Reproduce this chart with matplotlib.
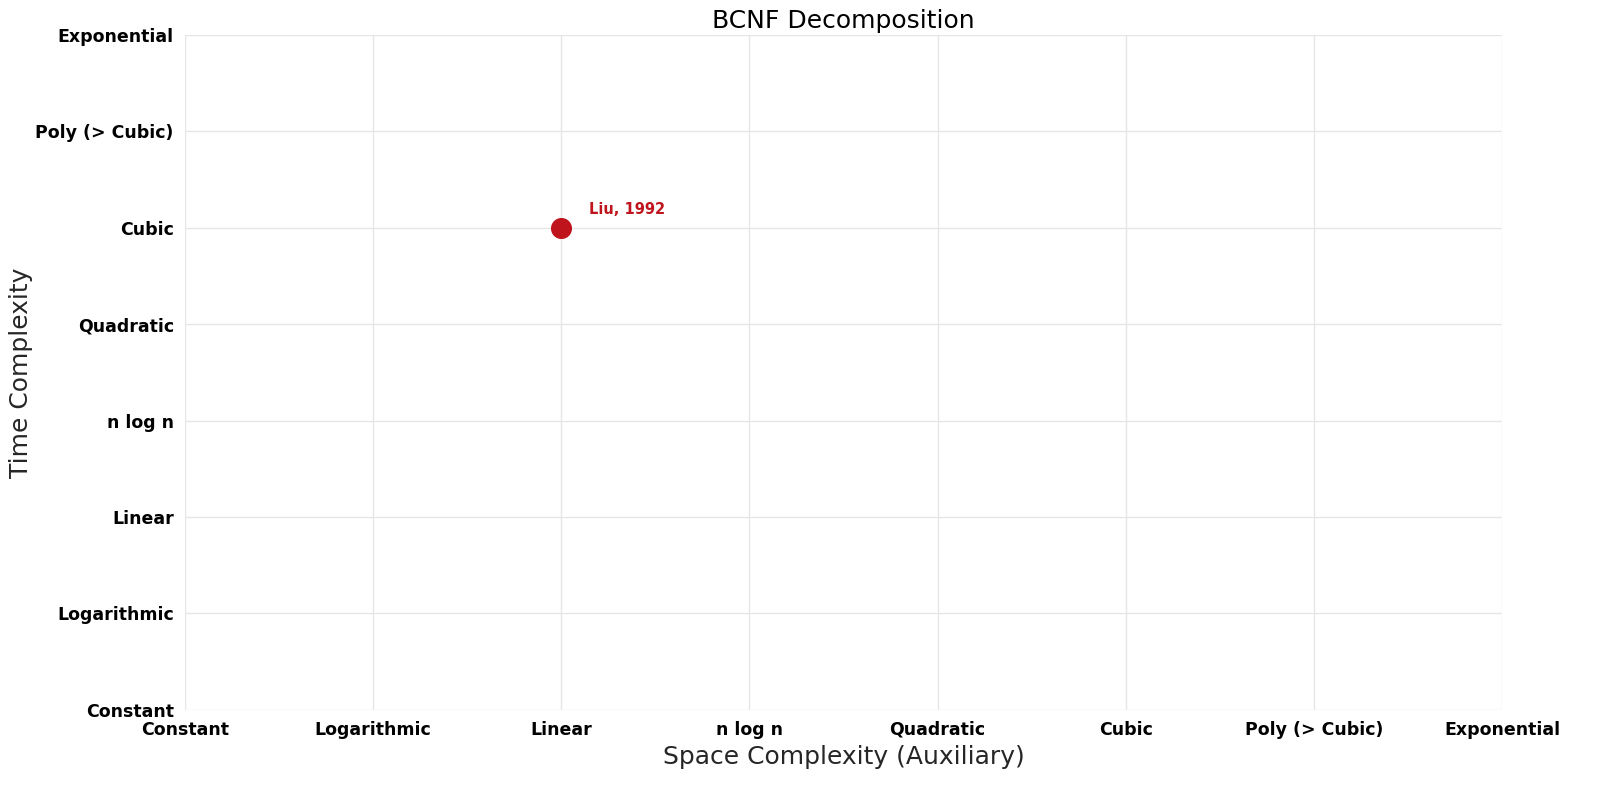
import matplotlib
matplotlib.use('Agg')
import matplotlib.pyplot as plt
import seaborn as sns

levels = ['Constant', 'Logarithmic', 'Linear', 'n log n', 'Quadratic',
          'Cubic', 'Poly (> Cubic)', 'Exponential']

names = ['Liu, 1992']
space = [2]
time = [5]

sns.set_style('whitegrid')
plt.rcParams['font.family'] = ['DejaVu Sans']

fig, ax = plt.subplots(figsize=(16.04, 7.94), dpi=100)
fig.subplots_adjust(left=0.1153, right=0.9364, top=0.956, bottom=0.106)

ax.scatter(space, time, s=200, color='#c0141c', zorder=3)
for n, x, y in zip(names, space, time):
    ax.annotate(n, (x, y), xytext=(20, 10), textcoords='offset points',
                color='#c0141c', fontsize=10.5, fontweight='bold')

ax.set_xlim(0, 7)
ax.set_ylim(0, 7)
ax.set_xticks(range(8))
ax.set_yticks(range(8))
ax.set_xticklabels(levels, fontsize=12.5, fontweight='bold', color='black')
ax.set_yticklabels(levels, fontsize=12.5, fontweight='bold', color='black')
ax.tick_params(axis='both', length=0, pad=8)
ax.grid(True, color='#e6e6e6', linewidth=1)
for sp in ax.spines.values():
    sp.set_visible(False)

ax.set_title('BCNF Decomposition', fontsize=18, pad=5, color='black')
ax.set_xlabel('Space Complexity (Auxiliary)', fontsize=18, color='#262626', labelpad=4)
ax.set_ylabel('Time Complexity', fontsize=18, color='#262626', labelpad=2)

fig.savefig('out.png', dpi=100)
